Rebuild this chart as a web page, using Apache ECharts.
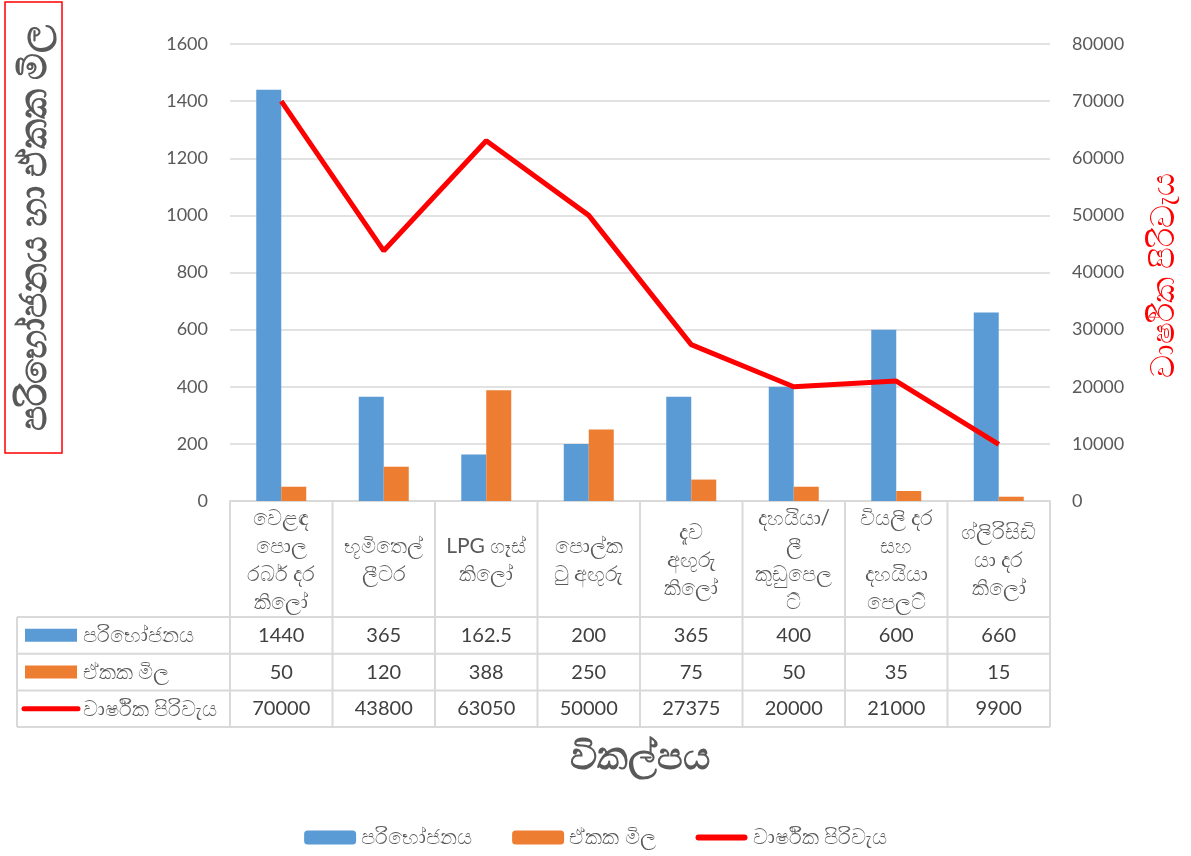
<!DOCTYPE html>
<html><head><meta charset="utf-8">
<script src="https://cdn.jsdelivr.net/npm/echarts@6/dist/echarts.min.js"></script>
<style>html,body{margin:0;padding:0;background:#fff}#c{width:1191px;height:856px}</style>
</head><body><div id="c"></div>
<script>
// ---- data ----
const categories = [
  'වෙළඳ\nපොල\nරබර් දර\nකිලෝ',
  'භූමිතෙල්\nලීටර',
  'LPG ගෑස්\nකිලෝ',
  'පොල්ක\nටු අඟුරු',
  'දැව\nඅඟුරු\nකිලෝ',
  'දහයියා/\nලී\nකුඩුපෙල\nට්',
  'වියලි දර\nසහ\nදහයියා\nපෙලට්',
  'ග්ලිරිසිඩි\nයා දර\nකිලෝ'
];
const seriesNames = ['පරිභෝජනය', 'ඒකක මිල', 'වාර්ෂික පිරිවැය'];
const consumption = [1440, 365, 162.5, 200, 365, 400, 600, 660];
const unitPrice = [50, 120, 388, 250, 75, 50, 35, 15];
const annualCost = [70000, 43800, 63050, 50000, 27375, 20000, 21000, 9900];
const leftAxisRange = [0, 1600, 200];
const rightAxisRange = [0, 80000, 10000];
const yLeftTitle = 'පරිභෝජනය හා ඒකක මිල';
const yRightTitle = 'වාර්ෂික පිරිවැය';
const xTitle = 'විකල්පය';

// ---- style ----
const FONT = 'Lato, "Noto Sans", "DejaVu Sans", sans-serif';
const BLUE = '#5B9BD5', ORANGE = '#ED7D31', RED = '#FF0000';
const GRID = '#D9D9D9', TXT = '#595959';
const G = {left: 230, right: 141, top: 44, bottom: 355};
const LINE_ICON = 'path://M0,0 L52,0 L52,0 Z M3,4 L49,4 A3,3 0 0 1 49,10 L3,10 A3,3 0 0 1 3,4 Z M0,14 L52,14 L52,14 Z';

const chart = echarts.init(document.getElementById('c'), null, {renderer: 'canvas'});
chart.setOption({
  animation: false,
  backgroundColor: '#fff',
  textStyle: {fontFamily: FONT},
  grid: {left: G.left, right: G.right, top: G.top, bottom: G.bottom, containLabel: false},
  xAxis: {
    type: 'category', data: categories,
    axisLine: {show: true, lineStyle: {color: GRID, width: 2}},
    axisTick: {show: false}, axisLabel: {show: false}, splitLine: {show: false}
  },
  yAxis: [{
    type: 'value', min: leftAxisRange[0], max: leftAxisRange[1], interval: leftAxisRange[2],
    axisLine: {show: false}, axisTick: {show: false},
    axisLabel: {color: TXT, fontSize: 18, margin: 22, fontFamily: FONT, formatter: v => String(v)},
    splitLine: {lineStyle: {color: GRID, width: 1.5}}
  }, {
    type: 'value', min: rightAxisRange[0], max: rightAxisRange[1], interval: rightAxisRange[2],
    axisLine: {show: false}, axisTick: {show: false},
    axisLabel: {color: TXT, fontSize: 18, margin: 22, fontFamily: FONT, formatter: v => String(v)},
    splitLine: {show: false}
  }],
  legend: {
    top: 822, left: 'center', itemWidth: 52, itemHeight: 14, itemGap: 40,
    textStyle: {color: TXT, fontSize: 21, fontFamily: FONT},
    data: [seriesNames[0], seriesNames[1], {name: seriesNames[2], icon: LINE_ICON}]
  },
  series: [
    {name: seriesNames[0], type: 'bar', data: consumption, barWidth: 25, barGap: '0%',
     itemStyle: {color: BLUE}},
    {name: seriesNames[1], type: 'bar', data: unitPrice, barWidth: 25, barGap: '0%',
     itemStyle: {color: ORANGE}},
    {name: seriesNames[2], type: 'line', yAxisIndex: 1, data: annualCost, symbol: 'none',
     lineStyle: {color: RED, width: 5}, itemStyle: {color: RED}}
  ]
});

// ---- data table & titles (positions derived from the axes) ----
const centers = categories.map((c, i) => chart.convertToPixel({xAxisIndex: 0}, i));
const step = centers[1] - centers[0];
const x0 = centers[0] - step / 2;
const x1 = centers[centers.length - 1] + step / 2;
const yAxisBottom = chart.convertToPixel({yAxisIndex: 0}, leftAxisRange[0]);
const yAxisTop = chart.convertToPixel({yAxisIndex: 0}, leftAxisRange[1]);
const headerH = 116, rowH = 36.7;
const rowTop = yAxisBottom + headerH;
const tableBottom = rowTop + 3 * rowH;
const legendColLeft = 17;
const els = [];
const ln = (xa, ya, xb, yb) => els.push({type: 'line', silent: true,
  shape: {x1: xa, y1: ya, x2: xb, y2: yb}, style: {stroke: GRID, lineWidth: 2}});
for (let i = 0; i <= categories.length; i++) {
  const x = x0 + i * step;
  ln(x, yAxisBottom, x, tableBottom);
}
ln(legendColLeft, rowTop, legendColLeft, tableBottom);
for (let r = 0; r <= 3; r++) {
  const y = rowTop + r * rowH;
  ln(legendColLeft, y, x1, y);
}
categories.forEach((c, i) => {
  els.push({type: 'text', x: centers[i], y: yAxisBottom + headerH / 2 + 1, silent: true,
    style: {text: c, fill: TXT, fontSize: 21, fontFamily: FONT, lineHeight: 28,
      align: 'center', verticalAlign: 'middle'}});
});
const rows = [consumption, unitPrice, annualCost];
rows.forEach((arr, r) => {
  const cy = rowTop + r * rowH + rowH / 2;
  arr.forEach((v, i) => {
    els.push({type: 'text', x: centers[i], y: cy, silent: true,
      style: {text: String(v), fill: '#404040', fontSize: 20, fontFamily: FONT,
        align: 'center', verticalAlign: 'middle'}});
  });
  if (r < 2) {
    els.push({type: 'rect', silent: true, shape: {x: 25, y: cy - 6.5, width: 52, height: 13},
      style: {fill: r === 0 ? BLUE : ORANGE}});
  } else {
    els.push({type: 'line', silent: true, shape: {x1: 24, y1: cy, x2: 78, y2: cy},
      style: {stroke: RED, lineWidth: 5, lineCap: 'round'}});
  }
  els.push({type: 'text', x: 83, y: cy, silent: true,
    style: {text: seriesNames[r], fill: TXT, fontSize: 21, fontFamily: FONT,
      align: 'left', verticalAlign: 'middle'}});
});
els.push({type: 'text', x: (x0 + x1) / 2, y: tableBottom + 30, silent: true,
  style: {text: xTitle, fill: TXT, fontSize: 38, fontWeight: 'bold', fontFamily: FONT,
    align: 'center', verticalAlign: 'middle'}});
els.push({type: 'rect', silent: true, shape: {x: 5, y: 2, width: 57, height: 451},
  style: {fill: 'none', stroke: RED, lineWidth: 1.5}});
els.push({type: 'text', x: 34, y: 228, rotation: Math.PI / 2, silent: true,
  style: {text: yLeftTitle, fill: TXT, fontSize: 37, fontWeight: 'bold', fontFamily: FONT,
    align: 'center', verticalAlign: 'middle'}});
els.push({type: 'text', x: 1164, y: (yAxisTop + yAxisBottom) / 2 + 3, rotation: Math.PI / 2, silent: true,
  style: {text: yRightTitle, fill: RED, fontSize: 32, fontFamily: FONT,
    align: 'center', verticalAlign: 'middle'}});

chart.setOption({graphic: {elements: els}});
</script>
</body></html>
